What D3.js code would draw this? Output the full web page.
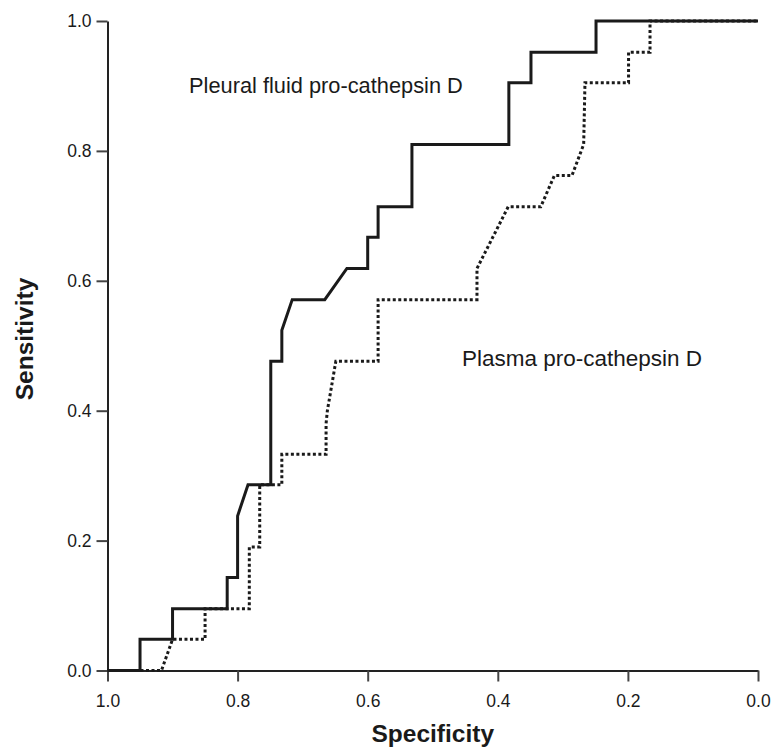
<!DOCTYPE html>
<html>
<head>
<meta charset="utf-8">
<script src="https://d3js.org/d3.v7.min.js"></script>
<style>
  body { margin: 0; background: #fff; }
  text { font-family: "Liberation Sans", Arial, sans-serif; fill: #1a1a1a; }
</style>
</head>
<body>
<div id="chart"></div>
<script>
// ROC curve vertices (specificity, sensitivity)
const pleuralSpec = [1.0, 0.950, 0.950, 0.900, 0.900, 0.816, 0.816, 0.800, 0.800, 0.784, 0.749, 0.749, 0.732, 0.732, 0.716,
                     0.666, 0.632, 0.600, 0.600, 0.584, 0.584, 0.532, 0.532, 0.383, 0.383, 0.349, 0.349, 0.249, 0.249, 0.0];
const pleuralSens = [0.0, 0.0, 0.048, 0.048, 0.095, 0.095, 0.143, 0.143, 0.238, 0.286, 0.286, 0.476, 0.476, 0.524, 0.571,
                     0.571, 0.619, 0.619, 0.667, 0.667, 0.714, 0.714, 0.810, 0.810, 0.905, 0.905, 0.952, 0.952, 1.0, 1.0];

const plasmaSpec = [1.0, 0.917, 0.900, 0.850, 0.850, 0.782, 0.782, 0.766, 0.766, 0.732, 0.732, 0.664, 0.664, 0.662, 0.649,
                    0.584, 0.584, 0.432, 0.432, 0.384, 0.334, 0.313, 0.286, 0.268, 0.266, 0.199, 0.199, 0.166, 0.166, 0.0];
const plasmaSens = [0.0, 0.0, 0.048, 0.048, 0.095, 0.095, 0.190, 0.190, 0.286, 0.286, 0.333, 0.333, 0.380, 0.400, 0.476,
                    0.476, 0.571, 0.571, 0.619, 0.714, 0.714, 0.762, 0.762, 0.810, 0.905, 0.905, 0.952, 0.952, 1.0, 1.0];

const tickValues = [0.0, 0.2, 0.4, 0.6, 0.8, 1.0];

const seriesLabels = ["Pleural fluid pro-cathepsin D", "Plasma pro-cathepsin D"];

// chart setup
const width = 774, height = 751;
const margin = { top: 21, right: 16, bottom: 80.5, left: 107.5 };

const svg = d3.select("#chart").append("svg")
    .attr("width", width)
    .attr("height", height);

const x = d3.scaleLinear()
    .domain([1, 0])
    .range([margin.left, width - margin.right]);

const y = d3.scaleLinear()
    .domain([0, 1])
    .range([height - margin.bottom, margin.top]);

// axes
const xAxis = d3.axisBottom(x)
    .tickValues(tickValues)
    .tickFormat(d3.format(".1f"))
    .tickSize(11)
    .tickPadding(13)
    .tickSizeOuter(0);

const yAxis = d3.axisLeft(y)
    .tickValues(tickValues)
    .tickFormat(d3.format(".1f"))
    .tickSize(11)
    .tickPadding(5)
    .tickSizeOuter(0);

const gx = svg.append("g")
    .attr("transform", `translate(0,${y(0)})`)
    .call(xAxis);

const gy = svg.append("g")
    .attr("transform", `translate(${x(1)},0)`)
    .call(yAxis);

[gx, gy].forEach(g => {
    g.select(".domain").attr("stroke", "#222").attr("stroke-width", 2);
    g.selectAll(".tick line").attr("stroke", "#444").attr("stroke-width", 2);
    g.selectAll(".tick text")
        .style("font-family", "'Liberation Sans', Arial, sans-serif")
        .style("font-size", "17.5px")
        .attr("fill", "#1a1a1a");
});

// axis titles
svg.append("text")
    .attr("x", (x(1) + x(0)) / 2)
    .attr("y", 742)
    .attr("text-anchor", "middle")
    .style("font-size", "24.5px")
    .style("font-weight", "bold")
    .text("Specificity");

svg.append("text")
    .attr("transform", `translate(33,${339}) rotate(-90)`)
    .attr("text-anchor", "middle")
    .style("font-size", "24.5px")
    .style("font-weight", "bold")
    .text("Sensitivity");

// curves
const line = d3.line()
    .x(d => x(d[0]))
    .y(d => y(d[1]));

const plasmaPts = d3.zip(plasmaSpec, plasmaSens);
const pleuralPts = d3.zip(pleuralSpec, pleuralSens);

svg.append("path")
    .datum(plasmaPts)
    .attr("fill", "none")
    .attr("stroke", "#1a1a1a")
    .attr("stroke-width", 3)
    .attr("stroke-dasharray", "3,2.5")
    .attr("d", line);

svg.append("path")
    .datum(pleuralPts)
    .attr("fill", "none")
    .attr("stroke", "#1a1a1a")
    .attr("stroke-width", 3)
    .attr("stroke-linejoin", "miter")
    .attr("d", line);

// series labels
svg.append("text")
    .attr("x", 189)
    .attr("y", 93)
    .style("font-size", "21.8px")
    .text(seriesLabels[0]);

svg.append("text")
    .attr("x", 462)
    .attr("y", 366)
    .style("font-size", "22.5px")
    .text(seriesLabels[1]);
</script>
</body>
</html>
